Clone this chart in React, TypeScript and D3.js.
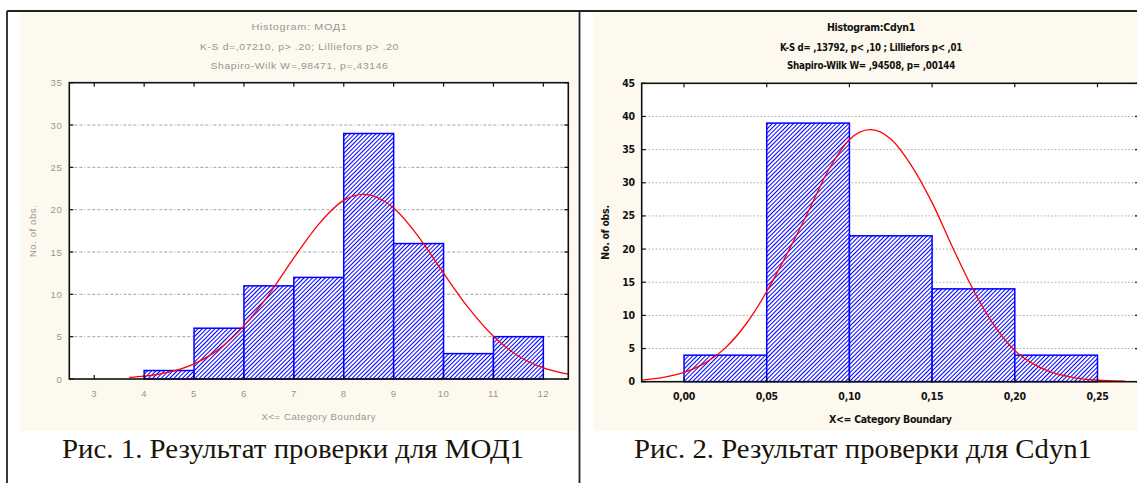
import React from 'react';
import * as d3 from 'd3';

// Fig. 1: МОД1
const mod1Edges = [4, 5, 6, 7, 8, 9, 10, 11, 12];
const mod1Counts = [1, 6, 11, 12, 29, 16, 3, 5];
const mod1XTicks = [3, 4, 5, 6, 7, 8, 9, 10, 11, 12];
const mod1XLabels = ['3', '4', '5', '6', '7', '8', '9', '10', '11', '12'];
const mod1YTicks = [0, 5, 10, 15, 20, 25, 30, 35];
const mod1CurveX = [3.7, 4, 4.5, 5, 5.5, 6, 6.5, 7, 7.5, 8, 8.4, 9, 9.5, 10, 10.5, 11, 11.5, 12, 12.5];
const mod1CurveY = [0.18, 0.33, 0.81, 1.79, 3.53, 6.27, 9.98, 14.3, 18.3, 21.1, 21.8, 20.2, 16.8, 12.5, 8.4, 5.05, 2.72, 1.31, 0.57];
const mod1Title = ['Histogram: МОД1', 'K-S d=,07210, p> .20; Lilliefors p> .20', 'Shapiro-Wilk W=,98471, p=,43146'];

// Fig. 2: Cdyn1
const cdynEdges = [0, 0.05, 0.1, 0.15, 0.2, 0.25];
const cdynCounts = [4, 39, 22, 14, 4];
const cdynXTicks = [0, 0.05, 0.1, 0.15, 0.2, 0.25];
const cdynXLabels = ['0,00', '0,05', '0,10', '0,15', '0,20', '0,25'];
const cdynYTicks = [0, 5, 10, 15, 20, 25, 30, 35, 40, 45];
const cdynCurveX = [-0.0256, -0.0125, 0, 0.0125, 0.025, 0.0375, 0.05, 0.0625, 0.075, 0.0875, 0.1, 0.1125, 0.125, 0.1375, 0.15, 0.1625, 0.175, 0.1875, 0.2, 0.2125, 0.225, 0.2375, 0.25, 0.2666];
const cdynCurveY = [0.25, 0.64, 1.4, 2.8, 5.1, 8.7, 13.6, 19.4, 25.6, 32.0, 36.5, 38.0, 36.6, 32.6, 27.0, 20.2, 13.8, 8.5, 4.7, 2.5, 1.2, 0.55, 0.22, 0.08];
const cdynTitle = ['Histogram:Cdyn1', 'K-S d= ,13792, p< ,10 ; Lilliefors p< ,01', 'Shapiro-Wilk W= ,94508, p= ,00144'];

const captions = ['Рис. 1. Результат проверки для МОД1', 'Рис. 2. Результат проверки для Cdyn1'];

type HistProps = {
  id: string;
  edges: number[];
  counts: number[];
  xTicks: number[];
  xLabels: string[];
  yTicks: number[];
  curveX: number[];
  curveY: number[];
  title: string[];
  titleWidths: number[];
  titleBase: number[];
  titleX: number;
  xDomain: [number, number];
  yMax: number;
  left: number; right: number; top: number; bottom: number;
  textStyle: React.CSSProperties;
  textFill: string;
  grid: string;
  gridColor: string;
};

function Histogram(p: HistProps) {
  const x = d3.scaleLinear().domain(p.xDomain).range([p.left, p.right]);
  const y = d3.scaleLinear().domain([0, p.yMax]).range([p.bottom, p.top]);
  const line = d3.line<number>()
    .x((_, i) => x(p.curveX[i]))
    .y(d => y(d))
    .curve(d3.curveMonotoneX);
  const bins = p.counts.map((c, i) => ({ x0: p.edges[i], x1: p.edges[i + 1], c }));
  const midX = (p.left + p.right) / 2;
  const midY = (p.top + p.bottom) / 2;

  return (
    <g>
      <defs>
        <pattern id={'hatch-' + p.id} patternUnits="userSpaceOnUse" width={3} height={3} patternTransform="rotate(45)">
          <rect width={3} height={3} fill="#fff" />
          <line x1={0.5} y1={0} x2={0.5} y2={3} stroke="#0000ff" strokeWidth={1} />
        </pattern>
        <clipPath id={'clip-' + p.id}>
          <rect x={p.left} y={p.top} width={p.right - p.left} height={p.bottom - p.top} />
        </clipPath>
      </defs>

      {p.title.map((t, i) => (
        <text key={i} x={p.titleX} y={p.titleBase[i]} textAnchor="middle" fill={p.textFill} style={p.textStyle}
          textLength={p.titleWidths[i]} lengthAdjust="spacingAndGlyphs">{t}</text>
      ))}

      <rect x={p.left} y={p.top} width={p.right - p.left} height={p.bottom - p.top} fill="#fff" />

      {/* grid */}
      {p.yTicks.filter(t => t > 0 && t < p.yMax).map(t => (
        <line key={t} x1={p.left} x2={p.right} y1={y(t)} y2={y(t)} stroke={p.gridColor} strokeWidth={1} strokeDasharray={p.grid} />
      ))}

      {/* bars */}
      {bins.map((b, i) => (
        <rect key={i} x={x(b.x0)} y={y(b.c)} width={x(b.x1) - x(b.x0)} height={y(0) - y(b.c)}
          fill={`url(#hatch-${p.id})`} stroke="#0000ff" strokeWidth={1.5} />
      ))}

      {/* fitted normal */}
      <path d={line(p.curveY) || ''} fill="none" stroke="#ff0000" strokeWidth={1.3} clipPath={`url(#clip-${p.id})`} />

      {/* frame and inward ticks */}
      <rect x={p.left} y={p.top} width={p.right - p.left} height={p.bottom - p.top} fill="none" stroke="#111" strokeWidth={1.6} />
      {p.xTicks.map(t => (
        <g key={'xt' + t}>
          <line x1={x(t)} x2={x(t)} y1={p.top} y2={p.top + 4} stroke="#111" strokeWidth={1.2} />
          <line x1={x(t)} x2={x(t)} y1={p.bottom} y2={p.bottom - 4} stroke="#111" strokeWidth={1.2} />
        </g>
      ))}
      {p.yTicks.map(t => (
        <g key={'yt' + t}>
          <line x1={p.left} x2={p.left + 4} y1={y(t)} y2={y(t)} stroke="#111" strokeWidth={1.2} />
          <line x1={p.right} x2={p.right - 4} y1={y(t)} y2={y(t)} stroke="#111" strokeWidth={1.2} />
        </g>
      ))}

      {/* tick labels */}
      {p.xTicks.map((t, i) => (
        <text key={'xl' + t} x={x(t)} y={p.bottom + 18} textAnchor="middle" fill={p.textFill} style={p.textStyle}>{p.xLabels[i]}</text>
      ))}
      {p.yTicks.map(t => (
        <text key={'yl' + t} x={p.left - 7} y={y(t) + 3.5} textAnchor="end" fill={p.textFill} style={p.textStyle}>{t}</text>
      ))}

      <text x={midX} y={p.bottom + 41} textAnchor="middle" fill={p.textFill} style={p.textStyle}>X&lt;= Category Boundary</text>
      <text transform={`translate(${p.left - 33},${midY}) rotate(-90)`} textAnchor="middle" fill={p.textFill} style={p.textStyle}>No. of obs.</text>
    </g>
  );
}

export default function App() {
  const grayText: React.CSSProperties = { fontFamily: 'Arial, "Liberation Sans", sans-serif', fontSize: 9.5, letterSpacing: 0.6 };
  const boldText: React.CSSProperties = { fontFamily: '"Liberation Sans Narrow", "DejaVu Sans Condensed", Arial, sans-serif', fontSize: 10.5, fontWeight: 'bold', letterSpacing: -0.3 };
  const capStyle: React.CSSProperties = { fontFamily: '"Liberation Serif", "Times New Roman", serif', fontSize: 27 };

  return (
    <svg width={1137} height={483} style={{ position: 'absolute', left: 0, top: 0, background: '#fff' }}>
      {/* panels */}
      <rect x={20} y={12} width={557} height={419} fill="#fdf9ee" />
      <rect x={593} y={12} width={560} height={419} fill="#fdf9ee" />

      <Histogram id="mod1" edges={mod1Edges} counts={mod1Counts} xTicks={mod1XTicks} xLabels={mod1XLabels}
        yTicks={mod1YTicks} curveX={mod1CurveX} curveY={mod1CurveY} title={mod1Title}
        titleWidths={[96, 199, 178]} titleBase={[30, 49.5, 69]} titleX={299.5}
        xDomain={[2.5, 12.5]} yMax={35} left={69.3} right={568.3} top={82.7} bottom={379}
        textStyle={grayText} textFill="#959595" grid="3,2,3,2,3,2,1,2" gridColor="#a0a0a0" />

      <Histogram id="cdyn" edges={cdynEdges} counts={cdynCounts} xTicks={cdynXTicks} xLabels={cdynXLabels}
        yTicks={cdynYTicks} curveX={cdynCurveX} curveY={cdynCurveY} title={cdynTitle}
        titleWidths={[88, 182, 168]} titleBase={[31, 50.5, 68.5]} titleX={871}
        xDomain={[-0.0256, 0.2751]} yMax={45} left={641.7} right={1139} top={83.3} bottom={381.7}
        textStyle={boldText} textFill="#111" grid="1.5,2" gridColor="#a8a8a8" />

      {/* table borders */}
      <line x1={7} x2={1137} y1={11} y2={11} stroke="#222" strokeWidth={1.8} />
      <line x1={7} x2={7} y1={11} y2={483} stroke="#222" strokeWidth={1.8} />
      <line x1={579.5} x2={579.5} y1={11} y2={483} stroke="#222" strokeWidth={1.8} />

      <text x={62} y={458} style={capStyle} fill="#1a1408" textLength={462} lengthAdjust="spacingAndGlyphs">{captions[0]}</text>
      <text x={634} y={458} style={capStyle} fill="#1a1408" textLength={458} lengthAdjust="spacingAndGlyphs">{captions[1]}</text>
    </svg>
  );
}
